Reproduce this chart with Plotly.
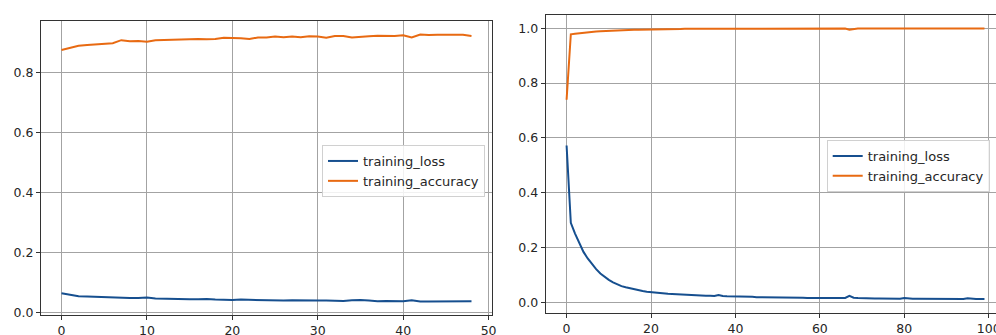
import plotly.graph_objects as go

# ---------------- data ----------------
left_epochs = list(range(49))
left_loss = [0.0637, 0.0581, 0.0537, 0.0526, 0.0514, 0.0503, 0.0503, 0.0470, 0.0481, 0.0481,
             0.0492, 0.0459, 0.0447, 0.0447, 0.0436, 0.0436, 0.0436, 0.0447, 0.0425, 0.0414,
             0.0414, 0.0425, 0.0414, 0.0414, 0.0403, 0.0392, 0.0392, 0.0403, 0.0392, 0.0380,
             0.0392, 0.0392, 0.0380, 0.0380, 0.0403, 0.0414, 0.0392, 0.0369, 0.0380, 0.0380,
             0.0369, 0.0403, 0.0358, 0.0358, 0.0358, 0.0358, 0.0369, 0.0369, 0.0369]
left_acc = [0.876, 0.884, 0.890, 0.893, 0.895, 0.897, 0.899, 0.909, 0.905, 0.906,
            0.904, 0.909, 0.910, 0.910, 0.912, 0.913, 0.913, 0.912, 0.913, 0.917,
            0.917, 0.915, 0.913, 0.918, 0.918, 0.921, 0.919, 0.921, 0.919, 0.922,
            0.921, 0.917, 0.923, 0.923, 0.918, 0.919, 0.922, 0.924, 0.923, 0.923,
            0.925, 0.918, 0.928, 0.926, 0.927, 0.926, 0.927, 0.927, 0.923]

right_epochs = list(range(100))
right_loss = [0.572, 0.290, 0.251, 0.215, 0.184, 0.160, 0.140, 0.121, 0.105, 0.093,
              0.082, 0.073, 0.066, 0.059, 0.055, 0.051, 0.047, 0.044, 0.041, 0.039,
              0.037, 0.035, 0.033, 0.032, 0.031, 0.030, 0.029, 0.028, 0.027, 0.027,
              0.026, 0.025, 0.025, 0.024, 0.024, 0.023, 0.027, 0.023, 0.022, 0.022,
              0.021, 0.021, 0.020, 0.020, 0.020, 0.019, 0.019, 0.019, 0.018, 0.018,
              0.018, 0.019, 0.018, 0.017, 0.017, 0.017, 0.017, 0.016, 0.016, 0.016,
              0.016, 0.016, 0.016, 0.015, 0.015, 0.015, 0.016, 0.024, 0.017, 0.016,
              0.015, 0.015, 0.015, 0.014, 0.014, 0.014, 0.014, 0.014, 0.014, 0.013,
              0.016, 0.014, 0.013, 0.013, 0.013, 0.013, 0.013, 0.013, 0.012, 0.012,
              0.012, 0.012, 0.012, 0.012, 0.012, 0.015, 0.013, 0.012, 0.012, 0.012]
right_acc = [0.739, 0.978, 0.980, 0.982, 0.984, 0.986, 0.987, 0.988, 0.989, 0.990,
             0.991, 0.992, 0.993, 0.993, 0.994, 0.994, 0.995, 0.995, 0.995, 0.996,
             0.996, 0.996, 0.997, 0.997, 0.997, 0.997, 0.997, 0.997, 0.998, 0.998,
             0.998, 0.998, 0.998, 0.998, 0.998, 0.998, 0.997, 0.998, 0.998, 0.998,
             0.998, 0.998, 0.998, 0.998, 0.998, 0.998, 0.998, 0.999, 0.999, 0.999,
             0.999, 0.998, 0.999, 0.999, 0.999, 0.999, 0.999, 0.999, 0.999, 0.999,
             0.999, 0.999, 0.999, 0.999, 0.999, 0.999, 0.999, 0.995, 0.998, 0.999,
             0.999, 0.999, 0.999, 0.999, 0.999, 0.999, 0.999, 0.999, 0.999, 0.999,
             0.998, 0.999, 0.999, 0.999, 0.999, 0.999, 0.999, 0.999, 0.999, 0.999,
             0.999, 0.999, 0.999, 0.999, 0.999, 0.998, 0.999, 0.999, 0.9995, 0.9995]

series_names = ["training_loss", "training_accuracy"]
y_ticks = [0.0, 0.2, 0.4, 0.6, 0.8, 1.0]

# ---------------- style ----------------
W, H = 996, 335
BLUE = "#164f8f"
ORANGE = "#e86a12"
FONT = "DejaVu Sans"

fig = go.Figure()

fig.add_trace(go.Scatter(x=left_epochs, y=left_loss, mode="lines", name=series_names[0],
                         line=dict(color=BLUE, width=2), xaxis="x", yaxis="y",
                         legend="legend", legendgroup="a"))
fig.add_trace(go.Scatter(x=left_epochs, y=left_acc, mode="lines", name=series_names[1],
                         line=dict(color=ORANGE, width=2), xaxis="x", yaxis="y",
                         legend="legend", legendgroup="b"))
fig.add_trace(go.Scatter(x=right_epochs, y=right_loss, mode="lines", name=series_names[0],
                         line=dict(color=BLUE, width=2), xaxis="x2", yaxis="y2",
                         legend="legend2", legendgroup="c"))
fig.add_trace(go.Scatter(x=right_epochs, y=right_acc, mode="lines", name=series_names[1],
                         line=dict(color=ORANGE, width=2), xaxis="x2", yaxis="y2",
                         legend="legend2", legendgroup="d"))

axis_common = dict(
    showgrid=True, gridcolor="#a3a3a3", gridwidth=1,
    showline=True, linecolor="#333333", linewidth=1.2,
    ticks="outside", ticklen=4, tickwidth=1, tickcolor="#333333",
    zeroline=False, ticklabeloverflow="allow",
    tickfont=dict(family=FONT, size=12.5, color="#262626"),
)

legend_common = dict(
    bgcolor="rgba(255,255,255,0.85)", bordercolor="#d0d0d0", borderwidth=1,
    font=dict(family=FONT, size=13, color="#262626"),
    yanchor="top", tracegroupgap=0, itemwidth=30,
)

fig.update_layout(
    width=W, height=H,
    margin=dict(l=0, r=0, t=0, b=0, autoexpand=False),
    paper_bgcolor="white", plot_bgcolor="white",
    showlegend=True,
    xaxis=dict(domain=[41 / W, 492 / W], range=[-2.4, 50.4], tick0=0, dtick=10,
               anchor="y", mirror=True, **axis_common),
    yaxis=dict(domain=[(H - 315) / H, (H - 21) / H], range=[-0.009, 0.973],
               tickvals=y_ticks, tickformat=".1f", anchor="x", mirror=True, **axis_common),
    xaxis2=dict(domain=[545.7 / W, 1.0], range=[-4.95, 101.73], tick0=0, dtick=20,
                anchor="y2", mirror=True, **axis_common),
    yaxis2=dict(domain=[(H - 313.3) / H, (H - 14.7) / H], range=[-0.04, 1.0495],
                tickvals=y_ticks, tickformat=".1f", anchor="x2", mirror=False, **axis_common),
    legend=dict(x=485 / W, xanchor="right", y=(H - 145) / H, **legend_common),
    legend2=dict(x=826.7 / W, xanchor="left", y=(H - 140) / H, **legend_common),
)

fig.write_html("out.html", config={"displayModeBar": False},
               post_script="document.body.style.margin='0';document.body.style.overflow='hidden';document.documentElement.style.overflow='hidden';")
